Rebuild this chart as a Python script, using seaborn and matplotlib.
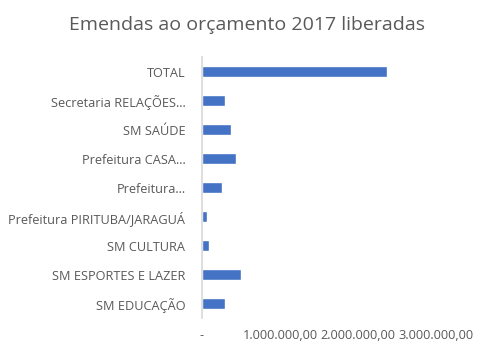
import pandas as pd
import seaborn as sns
import matplotlib.pyplot as plt
from matplotlib.ticker import FuncFormatter

categorias = ["TOTAL", "Secretaria RELAÇÕES...", "SM SAÚDE", "Prefeitura CASA...",
              "Prefeitura...", "Prefeitura PIRITUBA/JARAGUÁ", "SM CULTURA",
              "SM ESPORTES E LAZER", "SM EDUCAÇÃO"]
valores = [2370000, 294000, 370000, 434000, 250000, 64000, 90000, 500000, 294000]

df = pd.DataFrame({"categoria": categorias, "valor": valores})

sns.set_theme(style="white")
plt.rcParams["font.family"] = ["Open Sans", "DejaVu Sans"]

fig = plt.figure(figsize=(4.94, 3.55), dpi=100)
ax = fig.add_axes([0.409, 0.104, 0.474, 0.735])
sns.barplot(data=df, x="valor", y="categoria", color="#4472C4", width=0.38,
            saturation=1, ax=ax)

def fmt(v, pos):
    if v == 0:
        return "-"
    return f"{v:,.2f}".replace(",", "X").replace(".", ",").replace("X", ".")

ax.xaxis.set_major_formatter(FuncFormatter(fmt))
ax.set_xlim(0, 3000000)
ax.set_xticks([0, 1000000, 2000000, 3000000])
ax.set_xlabel("")
ax.set_ylabel("")
ax.tick_params(axis="both", length=0, labelsize=9.2, labelcolor="#595959")
ax.tick_params(axis="y", pad=12)
ax.tick_params(axis="x", pad=8)
for s in ["top", "right", "bottom"]:
    ax.spines[s].set_visible(False)
ax.spines["left"].set_color("#D9D9D9")
fig.suptitle("Emendas ao orçamento 2017 liberadas", fontsize=14, color="#595959", y=0.955)

plt.savefig("out.png", dpi=100)
